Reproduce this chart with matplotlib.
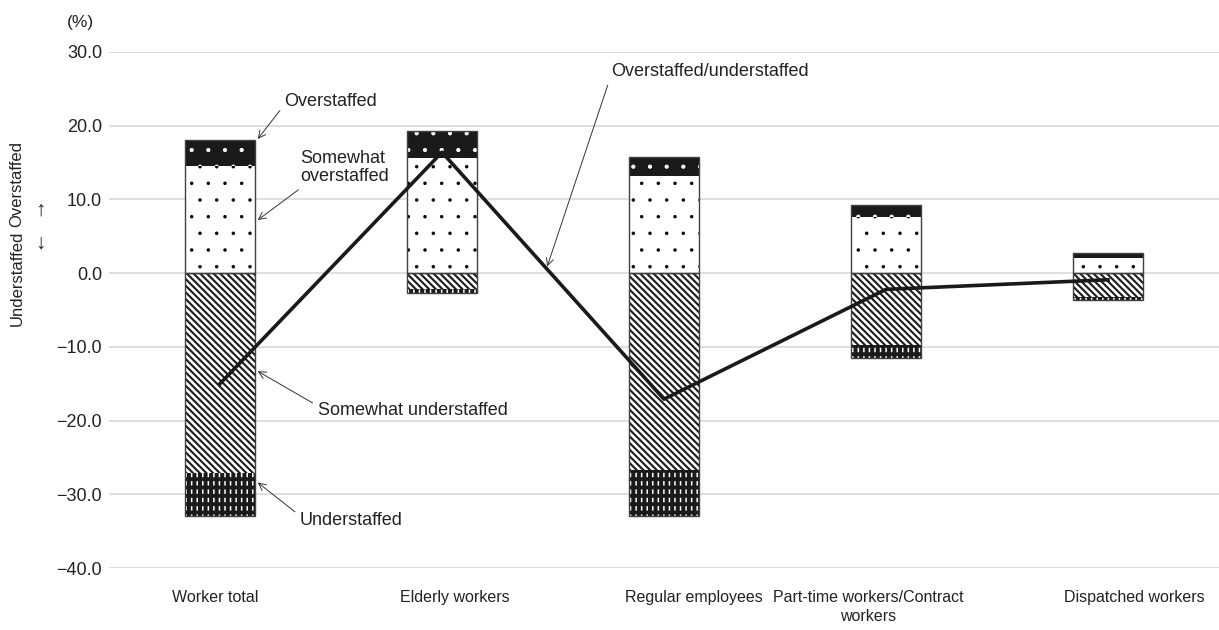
import matplotlib
matplotlib.use("Agg")
import matplotlib.pyplot as plt
import numpy as np

plt.rcParams["font.family"] = ["Liberation Sans", "DejaVu Sans"]

categories = [
    "Worker total",
    "Elderly workers",
    "Regular employees",
    "Part-time workers/Contract\nworkers",
    "Dispatched workers",
]
overstaffed = [3.5, 3.7, 2.5, 1.6, 0.7]
somewhat_over = [14.5, 15.6, 13.2, 7.6, 2.0]
somewhat_under = [-27.1, -2.2, -26.7, -9.8, -3.3]
understaffed = [-5.8, -0.5, -6.3, -1.7, -0.4]
net_di = [-15.0, 16.4, -17.1, -2.2, -0.9]
yticks = [30, 20, 10, 0, -10, -20, -30, -40]

# label shifts (category units) so the text sits like in the source
label_shift = [-0.02, 0.06, 0.135, -0.08, 0.12]

x = np.arange(len(categories))
w = 0.315
txt = "#222222"

fig = plt.figure(figsize=(12.19, 6.3), dpi=100)
ax = fig.add_axes([0.0894, 0.0984, 0.9106, 0.8191])

ax.set_xlim(-0.5, 4.5)
ax.set_ylim(-40, 30)

for yt in yticks:
    ax.axhline(yt, color="#d9d9d9", lw=1.2, zorder=0)

# dotted fills
plt.rcParams["hatch.linewidth"] = 0.1
ax.bar(x, somewhat_over, w, color="white", edgecolor="black", lw=0, hatch=".", zorder=2)
plt.rcParams["hatch.linewidth"] = 0.6
ax.bar(x, overstaffed, w, bottom=somewhat_over, color="#1a1a1a", edgecolor="white",
       lw=0, hatch=".", zorder=2)

# understaffed: white vertical dashes on black
plt.rcParams["hatch.linewidth"] = 1.1
ax.bar(x, understaffed, w, bottom=somewhat_under, color="#1a1a1a", edgecolor="white",
       lw=0, hatch="|||", zorder=2)
plt.rcParams["hatch.linewidth"] = 2.8
ax.bar(x, understaffed, w, bottom=somewhat_under, fill=False, edgecolor="#1a1a1a",
       lw=0, hatch="--", zorder=2.1)

# striped fill
plt.rcParams["hatch.linewidth"] = 1.5
ax.bar(x, somewhat_under, w, color="white", edgecolor="#1a1a1a", lw=0,
       hatch="\\\\\\\\\\", zorder=2)

pos_tot = np.array(overstaffed) + np.array(somewhat_over)
neg_tot = np.array(understaffed) + np.array(somewhat_under)
ax.bar(x, pos_tot, w, fill=False, edgecolor="#404040", lw=1, zorder=3)
ax.bar(x, neg_tot, w, fill=False, edgecolor="#404040", lw=1, zorder=3)

ax.plot(x, net_di, color="#1a1a1a", lw=2.6, zorder=4)

for s in ax.spines.values():
    s.set_visible(False)
ax.tick_params(axis="both", length=0, colors=txt)
ax.set_yticks(yticks)
ax.set_yticklabels([("\u2212" + f"{abs(v):.1f}") if v < 0 else f"{v:.1f}" for v in yticks],
                   fontsize=13)
ax.tick_params(axis="y", pad=5)
ax.set_xticks(x + np.array(label_shift))
ax.set_xticklabels(categories, fontsize=11.5, linespacing=1.3)
ax.tick_params(axis="x", pad=16)

fs = 13
arrow = dict(arrowstyle="->", color="#333333", lw=0.7, shrinkA=2, shrinkB=0)
ax.annotate("Overstaffed", xy=(0.17, 18.2), xytext=(0.29, 23.3), fontsize=fs, color=txt,
            ha="left", va="center", arrowprops=dict(arrow, relpos=(0, 0.3)))
ax.annotate("Somewhat\noverstaffed", xy=(0.17, 7.2), xytext=(0.36, 14.3), fontsize=fs,
            color=txt, ha="left", va="center", linespacing=1.1,
            arrowprops=dict(arrow, relpos=(0.05, 0)))
ax.annotate("Somewhat understaffed", xy=(0.17, -13.3), xytext=(0.44, -18.7), fontsize=fs,
            color=txt, ha="left", va="center", arrowprops=dict(arrow, relpos=(0, 0.8)))
ax.annotate("Understaffed", xy=(0.17, -28.4), xytext=(0.36, -33.6), fontsize=fs,
            color=txt, ha="left", va="center", arrowprops=dict(arrow, relpos=(0, 0.8)))
ax.annotate("Overstaffed/understaffed", xy=(1.474, 0.9), xytext=(1.76, 27.4), fontsize=fs,
            color=txt, ha="left", va="center", arrowprops=dict(arrow, relpos=(0, 0.2)))

fig.text(80 / 1219, 1 - 22 / 630, "(%)", fontsize=12.5, ha="center", va="center",
         color=txt)
fig.text(17 / 1219, 1 - 227 / 630, "Overstaffed", rotation=90, fontsize=12,
         ha="center", va="bottom", color=txt)
fig.text(17 / 1219, 1 - 231 / 630, "Understaffed", rotation=90, fontsize=12,
         ha="center", va="top", color=txt)
fig.text(40 / 1219, 1 - 210 / 630, "\u2191", fontsize=15, ha="center", va="center",
         color=txt)
fig.text(40 / 1219, 1 - 243 / 630, "\u2193", fontsize=15, ha="center", va="center",
         color=txt)

fig.savefig("out.png", dpi=100)
